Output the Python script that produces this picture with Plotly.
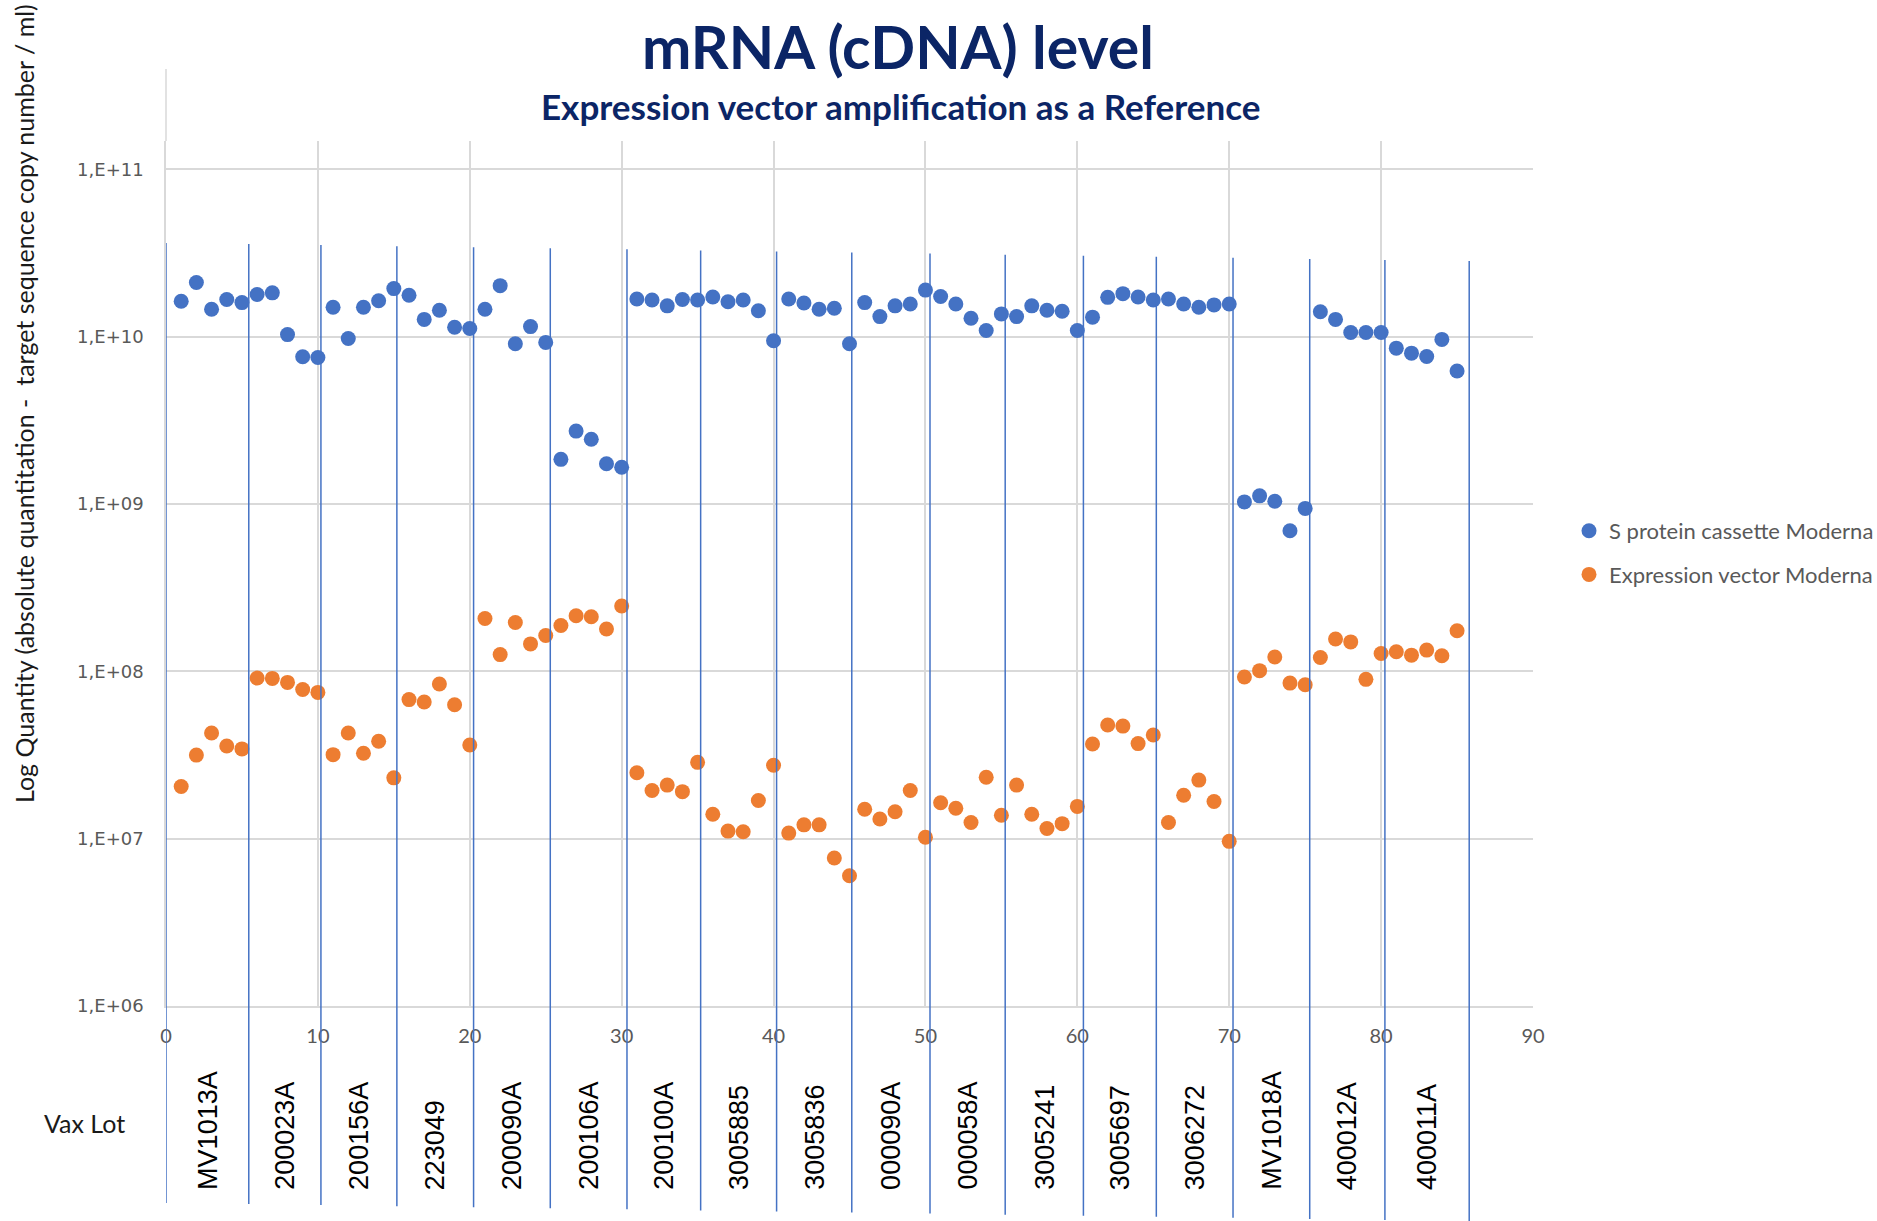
import plotly.graph_objects as go

# ---------------- data ----------------
sample_index = list(range(1, 86))

s_protein_cassette = [
    1.63e10, 2.11e10, 1.46e10, 1.67e10, 1.60e10, 1.79e10, 1.83e10, 1.03e10, 7.59e9, 7.52e9,
    1.50e10, 9.77e9, 1.50e10, 1.64e10, 1.94e10, 1.77e10, 1.27e10, 1.44e10, 1.14e10, 1.12e10,
    1.46e10, 2.02e10, 9.08e9, 1.15e10, 9.25e9, 1.85e9, 2.73e9, 2.44e9, 1.74e9, 1.66e9,
    1.68e10, 1.66e10, 1.53e10, 1.67e10, 1.66e10, 1.73e10, 1.62e10, 1.66e10, 1.43e10, 9.47e9,
    1.68e10, 1.59e10, 1.46e10, 1.48e10, 9.08e9, 1.60e10, 1.32e10, 1.53e10, 1.57e10, 1.90e10,
    1.74e10, 1.57e10, 1.29e10, 1.09e10, 1.37e10, 1.32e10, 1.53e10, 1.44e10, 1.42e10, 1.09e10,
    1.31e10, 1.72e10, 1.81e10, 1.73e10, 1.66e10, 1.68e10, 1.57e10, 1.50e10, 1.55e10, 1.57e10,
    1.03e9, 1.12e9, 1.04e9, 6.93e8, 9.42e8, 1.41e10, 1.27e10, 1.06e10, 1.06e10, 1.06e10,
    8.55e9, 7.98e9, 7.62e9, 9.64e9, 6.24e9,
]

expression_vector = [
    2.05e7, 3.16e7, 4.28e7, 3.58e7, 3.44e7, 9.12e7, 9.08e7, 8.59e7, 7.79e7, 7.49e7,
    3.18e7, 4.28e7, 3.24e7, 3.82e7, 2.31e7, 6.78e7, 6.56e7, 8.40e7, 6.32e7, 3.63e7,
    2.07e8, 1.26e8, 1.96e8, 1.46e8, 1.64e8, 1.88e8, 2.15e8, 2.12e8, 1.79e8, 2.46e8,
    2.48e7, 1.94e7, 2.09e7, 1.91e7, 2.86e7, 1.40e7, 1.11e7, 1.10e7, 1.69e7, 2.75e7,
    1.08e7, 1.21e7, 1.21e7, 7.66e6, 6.01e6, 1.50e7, 1.31e7, 1.45e7, 1.94e7, 1.02e7,
    1.64e7, 1.52e7, 1.25e7, 2.33e7, 1.38e7, 2.09e7, 1.40e7, 1.15e7, 1.23e7, 1.56e7,
    3.68e7, 4.78e7, 4.71e7, 3.70e7, 4.17e7, 1.25e7, 1.82e7, 2.24e7, 1.67e7, 9.64e6,
    9.25e7, 1.01e8, 1.22e8, 8.51e7, 8.32e7, 1.21e8, 1.56e8, 1.50e8, 8.96e7, 1.28e8,
    1.31e8, 1.25e8, 1.34e8, 1.24e8, 1.75e8,
]

lot_names = ["MV1013A", "200023A", "200156A", "223049", "200090A", "200106A",
             "200100A", "3005885", "3005836", "000090A", "000058A", "3005241",
             "3005697", "3006272", "MV1018A", "400012A", "400011A"]

# x positions of the hand-drawn lot separators
lot_bounds = [0, 5.45, 10.2, 15.2, 20.25, 25.3, 30.35, 35.2, 40.2, 45.15,
              50.3, 55.25, 60.4, 65.2, 70.25, 75.3, 80.25, 85.8]

x_tick_vals = [0, 10, 20, 30, 40, 50, 60, 70, 80, 90]
y_tick_vals = [1e6, 1e7, 1e8, 1e9, 1e10, 1e11]
y_tick_text = ["1,E+06", "1,E+07", "1,E+08", "1,E+09", "1,E+10", "1,E+11"]

series_names = ["S protein cassette Moderna", "Expression vector Moderna"]

# ---------------- layout helpers ----------------
W_FIG, H_FIG = 1877, 1221
L, R, T, B = 166, 1533, 141, 1006
PW, PH = R - L, B - T


def py(y_px):
    return (B - y_px) / PH


def pxp(x_px):
    return (x_px - L) / PW


BLUE = "#4472C4"
ORANGE = "#ED7D31"
GRID = "#D9D9D9"
TXT = "#595959"
NAVY = "#0B2566"

fig = go.Figure()
fig.add_trace(go.Scatter(
    x=sample_index, y=s_protein_cassette, mode="markers", name=series_names[0],
    legendgroup="a",
    marker=dict(color=BLUE, size=15, line=dict(width=0)),
))
fig.add_trace(go.Scatter(
    x=sample_index, y=expression_vector, mode="markers", name=series_names[1],
    legendgroup="b",
    marker=dict(color=ORANGE, size=15, line=dict(width=0)),
))

shapes = []
n = len(lot_bounds)
for i, xb in enumerate(lot_bounds):
    top = 243 + 18 * i / (n - 1)
    bot = 1203 + 18 * i / (n - 1)
    shapes.append(dict(type="line", xref="x", yref="paper", x0=xb, x1=xb,
                       y0=py(bot), y1=py(top), line=dict(color=BLUE, width=1.5),
                       layer="above"))
# upper extension of the value axis line
shapes.append(dict(type="line", xref="paper", yref="paper", x0=0, x1=0,
                   y0=1, y1=py(69), line=dict(color=GRID, width=1.5)))

annotations = []
for i, name in enumerate(lot_names):
    xm = (lot_bounds[i] + lot_bounds[i + 1]) / 2
    annotations.append(dict(
        x=xm, xref="x", y=py(1192), yref="paper", text=name, showarrow=False,
        textangle=-90, xanchor="center", yanchor="bottom",
        font=dict(family="Liberation Sans", size=27, color="#000000")))

annotations += [
    dict(x=pxp(898), y=py(46), xref="paper", yref="paper",
         text="<b>mRNA (cDNA) level</b>", showarrow=False,
         xanchor="center", yanchor="middle",
         font=dict(family="Lato", size=59, color=NAVY)),
    dict(x=pxp(900), y=py(106), xref="paper", yref="paper",
         text="<b>Expression vector amplification as a Reference</b>", showarrow=False,
         xanchor="center", yanchor="middle",
         font=dict(family="Lato", size=35, color=NAVY)),
    dict(x=pxp(84), y=py(1123), xref="paper", yref="paper", text="Vax Lot",
         showarrow=False, xanchor="center", yanchor="middle",
         font=dict(family="Lato", size=25, color="#1a1a1a")),
    dict(x=pxp(24), y=py(404), xref="paper", yref="paper",
         text="Log Quantity (absolute quantitation -  target sequence copy number / ml)",
         showarrow=False, textangle=-90, xanchor="center", yanchor="middle",
         font=dict(family="Lato", size=25, color="#1a1a1a")),
]

fig.update_layout(
    width=W_FIG, height=H_FIG,
    margin=dict(l=L, r=W_FIG - R, t=T, b=H_FIG - B, pad=0, autoexpand=False),
    paper_bgcolor="white", plot_bgcolor="white",
    showlegend=True,
    legend=dict(x=pxp(1569), y=py(510), xanchor="left", yanchor="top",
                font=dict(family="Lato", size=22, color=TXT),
                tracegroupgap=12, bgcolor="rgba(0,0,0,0)", itemsizing="trace"),
    shapes=shapes, annotations=annotations,
    xaxis=dict(range=[0, 90], tickvals=x_tick_vals, showgrid=True, gridcolor=GRID,
               gridwidth=1.5, zeroline=False, showline=True, linecolor=GRID,
               linewidth=1.5, ticks="", ticklabelstandoff=11,
               tickfont=dict(family="Lato", size=20, color=TXT)),
    yaxis=dict(type="log", range=[6, 11.17], tickvals=y_tick_vals, ticktext=y_tick_text,
               showgrid=True, gridcolor=GRID, gridwidth=1.5, zeroline=False,
               showline=True, linecolor=GRID, linewidth=1.5, ticks="",
               ticklabelstandoff=17,
               tickfont=dict(family="DejaVu Sans", size=18, color=TXT)),
)

fig.write_html("out.html", config={"displayModeBar": False},
               post_script="document.body.style.margin='0';")
